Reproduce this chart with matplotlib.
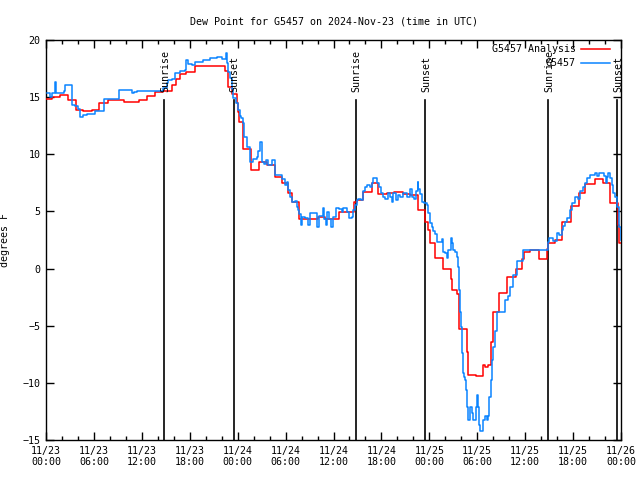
"""
Dew point chart for G5457, gnuplot look.
"""
import matplotlib
matplotlib.use('Agg')
import matplotlib.pyplot as plt
from matplotlib.ticker import MultipleLocator

# hours since 2024-11-23 00:00 UTC
analysis_hours = [0, 0.71, 1.75, 2.72, 3.76, 4.67, 5.72, 6.67, 7.73, 9.77, 11.65,
                  12.65, 13.65, 14.65, 15.74, 16.24, 16.78, 17.53, 18.66, 22.41,
                  22.83, 23.29, 23.88, 24.04, 24.17, 24.67, 25.67, 26.67, 27.67,
                  28.68, 29.55, 30.3, 30.77, 31.68, 34.06, 34.94, 36.69, 38.57,
                  38.95, 39.66, 40.79, 41.57, 42.66, 43.58, 44.7, 45.58, 46.58,
                  47.5, 47.87, 48.08, 48.71, 49.71, 50.71, 50.8, 51.46, 51.72,
                  52.72, 52.85, 53.84, 54.68, 54.97, 55.35, 55.68, 55.94, 56.73,
                  57.69, 58.82, 59.61, 59.86, 60.61, 61.77, 62.7, 62.86, 63.74,
                  64.57, 65.7, 66.74, 67.5, 68.75, 69.79, 70.62, 71.63, 71.79, 72]
analysis_vals = [14.8, 15.0, 15.2, 14.75, 13.9, 13.75, 13.9, 14.5, 14.75, 14.6, 14.75,
                 15.1, 15.45, 15.55, 16.1, 16.55, 17.0, 17.2, 17.75, 17.3,
                 15.9, 15.3, 14.5, 13.7, 12.8, 10.45, 8.6, 9.35, 9.05,
                 8.05, 7.5, 6.6, 5.8, 4.3, 4.5, 4.3, 4.95, 5.85,
                 6.0, 6.7, 7.45, 6.5, 6.65, 6.7, 6.5, 6.45, 5.1,
                 4.1, 3.4, 2.2, 0.9, 0.0, -0.9, -1.9, -2.2, -5.3,
                 -7.3, -9.3, -9.4, -8.45, -8.6, -8.45, -6.4, -3.8, -2.1,
                 -0.75, 0.0, 0.8, 1.45, 1.6, 0.8, 1.7, 2.2, 2.5,
                 4.1, 5.5, 6.65, 7.4, 7.85, 7.45, 5.75, 3.8, 2.2, 2.2]

obs_hours = [0.09, 0.5, 0.75, 1.13, 1.25, 2.25, 2.38, 3.29, 3.63, 4.0, 4.26, 4.67,
             5.1, 6.14, 7.26, 9.14, 10.73, 11.0, 11.36, 14.28, 14.65, 15.11, 15.28,
             15.78, 16.15, 16.78, 17.4, 17.53, 17.78, 18.25, 18.66, 19.66, 20.54,
             21.37, 22.04, 22.54, 22.66, 22.83, 23.04, 23.25, 23.45, 23.75, 24.08,
             24.29, 24.42, 24.71, 24.79, 25.21, 25.54, 25.92, 26.38, 26.58, 26.8,
             27.01, 27.24, 27.55, 27.8, 28.26, 28.68, 29.51, 29.93, 30.14, 30.34,
             30.55, 30.8, 31.14, 31.39, 31.59, 31.72, 31.87, 31.93, 32.1, 32.43,
             32.81, 33.06, 33.97, 34.22, 34.72, 34.85, 35.06, 35.23, 35.48, 35.65,
             35.9, 36.31, 36.73, 37.03, 37.23, 37.65, 37.98, 38.28, 38.48, 38.69,
             38.91, 39.11, 39.44, 39.73, 39.95, 40.24, 40.57, 40.79, 40.98, 41.49,
             41.74, 41.91, 42.16, 42.45, 42.86, 43.08, 43.29, 43.5, 43.83, 44.12,
             44.33, 44.74, 45.17, 45.58, 45.79, 46.08, 46.33, 46.54, 46.62, 46.83,
             47.05, 47.33, 47.67, 47.87, 48.08, 48.3, 48.5, 48.71, 48.92, 49.55,
             49.67, 49.96, 50.18, 50.38, 50.68, 50.84, 51.0, 51.21, 51.43, 51.63,
             51.75, 51.84, 51.93, 52.05, 52.18, 52.25, 52.38, 52.47, 52.55, 52.68,
             52.88, 53.09, 53.3, 53.51, 53.84, 54.0, 54.13, 54.26, 54.35, 54.76,
             54.97, 55.18, 55.38, 55.51, 55.68, 55.85, 56.01, 56.22, 56.44, 57.35,
             57.48, 57.89, 58.1, 58.52, 59.02, 59.77, 62.7, 62.9, 63.02, 63.52,
             63.95, 64.27, 64.57, 64.77, 64.99, 65.2, 65.62, 65.83, 66.24, 66.66,
             66.87, 67.28, 67.5, 67.71, 68.12, 68.75, 69.0, 69.29, 69.79, 69.92,
             70.12, 70.25, 70.41, 70.62, 70.83, 71.04, 71.25, 71.46, 71.54, 71.69,
             71.79, 71.97]
obs_vals = [15.35, 15.0, 15.35, 16.3, 15.35, 15.55, 16.05, 14.3, 14.2, 14.0, 13.3, 13.45,
            13.5, 13.75, 14.8, 15.6, 15.35, 15.45, 15.55, 15.55, 15.8, 16.2, 16.5,
            16.6, 17.1, 17.3, 17.4, 18.25, 17.9, 17.8, 18.1, 18.25, 18.4,
            18.5, 18.3, 18.9, 17.95, 17.2, 16.65, 15.75, 14.9, 14.45, 13.9,
            13.35, 13.15, 12.7, 11.55, 10.65, 9.35, 9.55, 9.8, 10.3, 11.1,
            9.35, 9.15, 9.5, 9.05, 9.5, 8.2, 7.85, 7.3, 7.6, 6.9,
            6.3, 5.85, 5.95, 5.4, 5.1, 4.75, 4.35, 3.8, 4.55, 4.4,
            3.8, 4.85, 3.65, 4.6, 5.3, 4.3, 3.8, 4.95, 4.3, 3.65,
            4.5, 5.3, 5.2, 4.95, 5.3, 4.95, 4.4, 4.55, 5.15, 5.55,
            6.0, 6.1, 6.0, 6.75, 7.15, 7.3, 7.15, 7.5, 7.9, 7.45,
            7.15, 6.6, 6.3, 6.1, 6.6, 6.3, 5.85, 6.6, 6.0, 6.45,
            6.3, 6.6, 6.3, 7.0, 6.3, 6.1, 6.8, 7.6, 6.95, 6.5,
            5.85, 5.75, 5.6, 4.85, 3.95, 3.65, 3.25, 3.0, 2.35, 2.6,
            1.45, 1.35, 0.9, 1.6, 2.65, 2.2, 1.6, 1.45, 1.0, 0.15,
            -1.9, -3.8, -5.1, -7.4, -8.45, -9.15, -9.5, -9.75, -10.6, -12.1,
            -13.25, -12.1, -12.6, -13.25, -12.1, -11.05, -12.1, -13.7, -14.25, -13.25,
            -12.9, -13.25, -12.9, -11.2, -9.75, -8.0, -6.85, -5.5, -3.8, -3.8,
            -2.75, -2.4, -1.6, -0.55, 0.7, 1.65, 1.65, 2.35, 2.7, 2.4,
            3.15, 2.9, 3.4, 3.7, 4.1, 4.4, 5.1, 5.7, 6.3, 6.1,
            6.75, 7.1, 7.45, 7.9, 8.2, 8.35, 8.1, 8.4, 8.4, 8.1,
            7.45, 8.0, 8.35, 7.9, 7.3, 6.6, 6.3, 6.0, 5.4, 4.6,
            3.65, 2.5]

sun_hours = [14.81, 23.54, 38.82, 47.5, 62.9, 71.55]
sun_labels = ['Sunrise', 'Sunset', 'Sunrise', 'Sunset', 'Sunrise', 'Sunset']

tick_hours = list(range(0, 73, 6))
tick_labels = ['11/23\n00:00', '11/23\n06:00', '11/23\n12:00', '11/23\n18:00',
               '11/24\n00:00', '11/24\n06:00', '11/24\n12:00', '11/24\n18:00',
               '11/25\n00:00', '11/25\n06:00', '11/25\n12:00', '11/25\n18:00',
               '11/26\n00:00']

plt.rcParams['font.family'] = ['DejaVu Sans Mono']
plt.rcParams['font.size'] = 7.2

fig = plt.figure(figsize=(6.4, 4.8), dpi=100)
ax = fig.add_axes([46 / 640, 40 / 480, 575 / 640, 400 / 480])

ax.plot(analysis_hours, analysis_vals, color='#ff0000', lw=1.1,
        drawstyle='steps-post', zorder=3)
ax.plot(obs_hours, obs_vals, color='#0a84ff', lw=1.1,
        drawstyle='steps-post', zorder=4)

# sunrise / sunset markers
for h, lab in zip(sun_hours, sun_labels):
    ax.plot([h, h], [-15, 14.75], color='black', lw=1.2, zorder=2)
    ax.text(h + 0.1, 15.45, lab, rotation=90, ha='center', va='bottom',
            fontsize=7.2, zorder=5)

ax.set_xlim(0, 72)
ax.set_ylim(-15, 20)
ax.set_xticks(tick_hours)
ax.set_xticklabels(tick_labels)
ax.xaxis.set_minor_locator(MultipleLocator(2))
ax.set_yticks(range(-15, 21, 5))
ax.tick_params(which='both', direction='in', top=True, right=True, pad=4)
ax.tick_params(which='major', length=6, width=1)
ax.tick_params(which='minor', length=3, width=1)
for sp in ax.spines.values():
    sp.set_linewidth(1.0)

ax.set_title('Dew Point for G5457 on 2024-Nov-23 (time in UTC)', fontsize=7.2, pad=11)
ax.set_ylabel('degrees F')
ax.yaxis.set_label_coords(-0.063, 0.5)

# gnuplot-style key, text right aligned
key = [('G5457 Analysis', '#ff0000', 0.9775), ('G5457', '#0a84ff', 0.9425)]
for text, col, ky in key:
    ax.text(0.921, ky, text, transform=ax.transAxes, ha='right', va='center',
            fontsize=7.2, zorder=6)
    ax.plot([0.931, 0.981], [ky, ky], color=col, lw=1.1, transform=ax.transAxes,
            zorder=6)

fig.savefig('out.png', dpi=100)
